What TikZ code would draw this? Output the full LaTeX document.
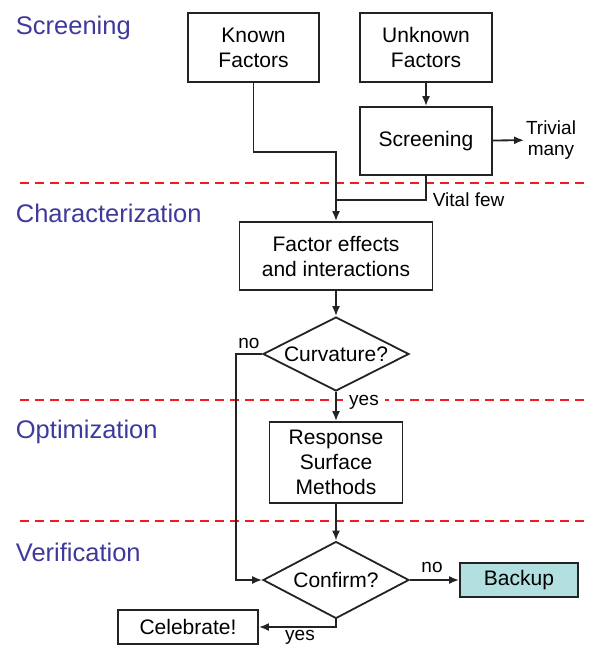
\documentclass[tikz,border=0pt]{standalone}
\usepackage{fontspec}
\setmainfont{Liberation Sans}
\usetikzlibrary{shapes.geometric,arrows.meta}
\definecolor{phasecol}{RGB}{62,58,155}
\definecolor{cutcol}{RGB}{245,25,40}
\definecolor{backupcol}{RGB}{178,223,223}
\definecolor{linecol}{RGB}{35,35,35}
\begin{document}
\begin{tikzpicture}[x=1pt,y=-1pt,>={Latex[length=10pt,width=8pt]},line width=1.8pt,
  box/.style={draw=linecol,fill=white,align=center,inner sep=0pt,font=\fontsize{21}{25}\selectfont},
  decide/.style={diamond,aspect=1.95,draw=linecol,fill=white,inner sep=0pt,minimum width=146pt,font=\fontsize{21}{25}\selectfont},
  phase/.style={anchor=west,text=phasecol,inner sep=0pt,font=\fontsize{25.5}{30}\selectfont},
  tag/.style={inner sep=1pt,align=center,font=\fontsize{19}{21}\selectfont},
  cutline/.style={draw=cutcol,line width=2pt,dash pattern=on 9pt off 6pt},
  flow/.style={draw=linecol}]
\useasboundingbox (0,0) rectangle (589,646);
\foreach \y in {183,400,521}{
	\draw[cutline] (20,\y) -- (589,\y);
}
\node[phase] (phscr) at (15,28) {Screening};
\node[phase] (phchar) at (15,213) {Characterization};
\node[phase] (phopt) at (15,432) {Optimization};
\node[phase] (phver) at (15,552) {Verification};
\node[box,minimum width=131pt,minimum height=69pt] (known) at (253.5,47.5) {Known\\Factors};
\node[box,minimum width=132pt,minimum height=69pt] (unknown) at (426,47.5) {Unknown\\Factors};
\node[box,minimum width=132pt,minimum height=68pt] (screen) at (426,141) {Screening};
\node[box,minimum width=193pt,minimum height=68pt] (factor) at (336,256) {Factor effects\\and interactions};
\node[decide,minimum height=74pt] (curv) at (336,354) {Curvature?};
\node[box,minimum width=133pt,minimum height=81pt] (resp) at (336,462.5) {Response\\Surface\\Methods};
\node[decide,minimum height=77pt] (confirm) at (336,580) {Confirm?};
\node[box,fill=backupcol,minimum width=118pt,minimum height=34pt] (backup) at (519,580) {Backup};
\node[box,minimum width=140pt,minimum height=34pt] (celeb) at (188,627) {Celebrate!};
\node[tag] (trivial) at (551,140) {Trivial\\many};
\node[tag,anchor=west] (vital) at (431,200) {Vital few};
\node[tag] (no1) at (249,343) {no};
\node[tag,fill=white,inner xsep=6pt] (yes1) at (364,402) {yes};
\node[tag] (no2) at (432,567) {no};
\node[tag] (yes2) at (300,637) {yes};
\coordinate (kjoin) at (336,152);
\coordinate (vjoin) at (336,200);
\coordinate (nobend) at (236,354);
\draw[flow,->] (unknown) -- (screen);
\draw[flow,->] (screen) -- (trivial);
\draw[flow] (screen.south) |- (vjoin);
\draw[flow,->] (known.south) |- (kjoin) -- (factor.north);
\draw[flow,->] (factor) -- (curv);
\draw[flow,->] (curv) -- (resp);
\draw[flow,->] (curv.west) -- (nobend) |- (confirm.west);
\draw[flow,->] (resp) -- (confirm);
\draw[flow,->] (confirm) -- (backup);
\draw[flow,->] (confirm.south) |- (celeb.east);
\end{tikzpicture}
\end{document}
